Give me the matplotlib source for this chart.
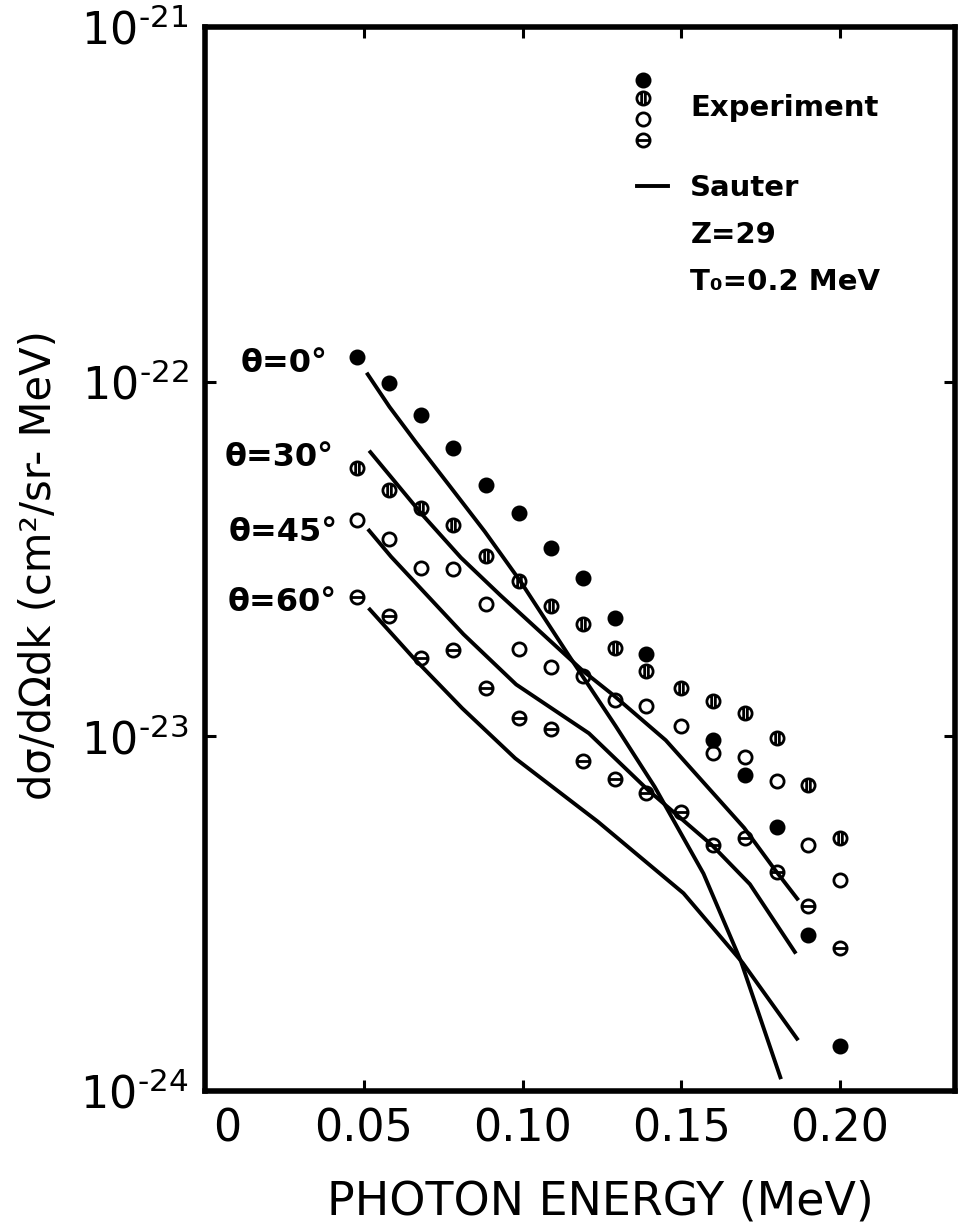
import numpy as np
import matplotlib
matplotlib.use('Agg')
from matplotlib import pyplot
from matplotlib.path import Path

# photon energy (MeV) of the measured points
ENERGY = [0.048, 0.058, 0.068, 0.078, 0.0885, 0.099, 0.109, 0.119,
          0.129, 0.139, 0.150, 0.160, 0.170, 0.180, 0.190, 0.200]

# experiment, cm^2/sr-MeV
EXP_0 = [1.17e-22, 9.9e-23, 8.05e-23, 6.5e-23, 5.1e-23, 4.27e-23, 3.4e-23, 2.79e-23,
         2.15e-23, 1.71e-23, np.nan, 9.76e-24, 7.8e-24, 5.56e-24, 2.76e-24, 1.34e-24]
EXP_30 = [5.70e-23, 4.94e-23, 4.40e-23, 3.94e-23, 3.22e-23, 2.75e-23, 2.33e-23, 2.08e-23,
          1.77e-23, 1.53e-23, 1.37e-23, 1.26e-23, 1.16e-23, 9.91e-24, 7.30e-24, 5.16e-24]
EXP_45 = [4.08e-23, 3.61e-23, 2.99e-23, 2.96e-23, 2.36e-23, 1.76e-23, 1.57e-23, 1.48e-23,
          1.27e-23, 1.22e-23, 1.07e-23, 9.00e-24, 8.73e-24, 7.48e-24, 4.95e-24, 3.94e-24]
EXP_60 = [2.47e-23, 2.19e-23, 1.66e-23, 1.75e-23, 1.37e-23, 1.13e-23, 1.05e-23, 8.52e-24,
          7.60e-24, 6.91e-24, 6.12e-24, 4.94e-24, 5.17e-24, 4.14e-24, 3.32e-24, 2.53e-24]

# Sauter theory curves
SAUTER_0_K = [0.0509, 0.0581, 0.0664, 0.0767, 0.0881, 0.0994, 0.1142, 0.1293, 0.1416, 0.1570, 0.1688, 0.1814]
SAUTER_0 = [1.06e-22, 8.49e-23, 6.75e-23, 5.13e-23, 3.78e-23, 2.73e-23, 1.71e-23, 1.07e-23, 7.21e-24, 4.10e-24, 2.32e-24, 1.08e-24]
SAUTER_30_K = [0.0517, 0.0682, 0.0806, 0.0930, 0.1190, 0.1289, 0.1451, 0.1698, 0.1791, 0.1869]
SAUTER_30 = [6.39e-23, 4.24e-23, 3.19e-23, 2.50e-23, 1.53e-23, 1.30e-23, 9.75e-24, 5.52e-24, 4.25e-24, 3.45e-24]
SAUTER_45_K = [0.0513, 0.0586, 0.0814, 0.0980, 0.1209, 0.1395, 0.1596, 0.1716, 0.1861]
SAUTER_45 = [3.84e-23, 3.21e-23, 1.94e-23, 1.40e-23, 1.02e-23, 7.06e-24, 4.94e-24, 3.83e-24, 2.44e-24]
SAUTER_60_K = [0.0515, 0.0655, 0.0810, 0.0977, 0.1237, 0.1507, 0.1693, 0.1868]
SAUTER_60 = [2.30e-23, 1.67e-23, 1.20e-23, 8.67e-24, 5.75e-24, 3.61e-24, 2.30e-24, 1.39e-24]

ANGLE_LABELS = ['θ=0°', 'θ=30°', 'θ=45°', 'θ=60°']
XTICKS = [0.05, 0.10, 0.15, 0.20]
XTICK_LABELS = ['0.05', '0.10', '0.15', '0.20']
YTICKS = [1e-24, 1e-23, 1e-22, 1e-21]
YTICK_LABELS = [r'$10^{\text{-}24}$', r'$10^{\text{-}23}$', r'$10^{\text{-}22}$', r'$10^{\text{-}21}$']


def circle_with(segments):
    circ = Path.unit_circle()
    parts = [circ] + [Path(seg, [Path.MOVETO, Path.LINETO]) for seg in segments]
    return Path.make_compound_path(*parts)


# open circle with two vertical bars (30 deg), with horizontal bar (60 deg)
MARK_30 = circle_with([[(-0.28, -0.8), (-0.28, 0.8)], [(0.28, -0.8), (0.28, 0.8)]])
MARK_60 = circle_with([[(-0.95, 0.0), (0.95, 0.0)]])

ms = 9.5
mew = 2.0
styles = [
    dict(marker='o', markerfacecolor='black', markeredgecolor='black'),
    dict(marker=MARK_30, markerfacecolor='none', markeredgecolor='black'),
    dict(marker='o', markerfacecolor='none', markeredgecolor='black'),
    dict(marker=MARK_60, markerfacecolor='none', markeredgecolor='black'),
]

if __name__ == '__main__':
    fig = pyplot.figure(figsize=(9.6, 12.26), dpi=100)
    ax = fig.add_axes([205 / 960, 1 - 1091 / 1226, 750 / 960, 1064 / 1226])

    for ys, st in zip([EXP_0, EXP_30, EXP_45, EXP_60], styles):
        ax.plot(ENERGY, ys, linestyle='none', markersize=ms, markeredgewidth=mew, **st)

    for k, s in [(SAUTER_0_K, SAUTER_0), (SAUTER_30_K, SAUTER_30),
                 (SAUTER_45_K, SAUTER_45), (SAUTER_60_K, SAUTER_60)]:
        ax.plot(k, s, color='black', linewidth=2.8, solid_capstyle='butt',
                solid_joinstyle='round')

    ax.set_yscale('log')
    ax.set_xlim(0, 0.2362)
    ax.set_ylim(1e-24, 1e-21)

    ax.set_xticks(XTICKS)
    ax.set_xticklabels(XTICK_LABELS)
    ax.set_yticks(YTICKS)
    ax.set_yticklabels(YTICK_LABELS)
    ax.minorticks_off()
    ax.tick_params(direction='in', length=8, width=2.2, top=True, right=True,
                   labelsize=32, pad=12)
    for sp in ax.spines.values():
        sp.set_linewidth(4)

    # "0" at the origin, a bit right of the corner
    ax.annotate('0', xy=(0, 0), xycoords='axes fraction', xytext=(16, -12),
                textcoords='offset points', ha='center', va='top', fontsize=32)

    # angle labels
    for txt, (xf, yf) in zip(ANGLE_LABELS, [(0.163, 0.684), (0.171, 0.595),
                                            (0.177, 0.525), (0.176, 0.459)]):
        ax.text(xf, yf, txt, transform=ax.transAxes, ha='right', va='center',
                fontsize=23, fontweight='bold')

    # key in upper right
    for st, yf in zip(styles, [0.950, 0.933, 0.914, 0.894]):
        ax.plot([0.584], [yf], transform=ax.transAxes, linestyle='none',
                markersize=ms, markeredgewidth=mew, clip_on=False, **st)
    ax.text(0.647, 0.924, 'Experiment', transform=ax.transAxes, ha='left', va='center',
            fontsize=21, fontweight='bold')
    ax.plot([0.576, 0.617], [0.8506, 0.8506], transform=ax.transAxes, color='black',
            linewidth=2.8)
    ax.text(0.647, 0.8487, 'Sauter', transform=ax.transAxes, ha='left', va='center',
            fontsize=21, fontweight='bold')
    ax.text(0.647, 0.8045, 'Z=29', transform=ax.transAxes, ha='left', va='center',
            fontsize=21, fontweight='bold')
    ax.text(0.647, 0.7603, 'T₀=0.2 MeV', transform=ax.transAxes, ha='left', va='center',
            fontsize=21, fontweight='bold')

    fig.text(600 / 960, 1 - 1202 / 1226, 'PHOTON ENERGY (MeV)', ha='center', va='center',
             fontsize=33)
    fig.text(39 / 960, 1 - 565 / 1226, 'dσ/dΩdk (cm²/sr- MeV)', ha='center', va='center',
             rotation=90, fontsize=30)

    fig.savefig('out.png', dpi=100)
